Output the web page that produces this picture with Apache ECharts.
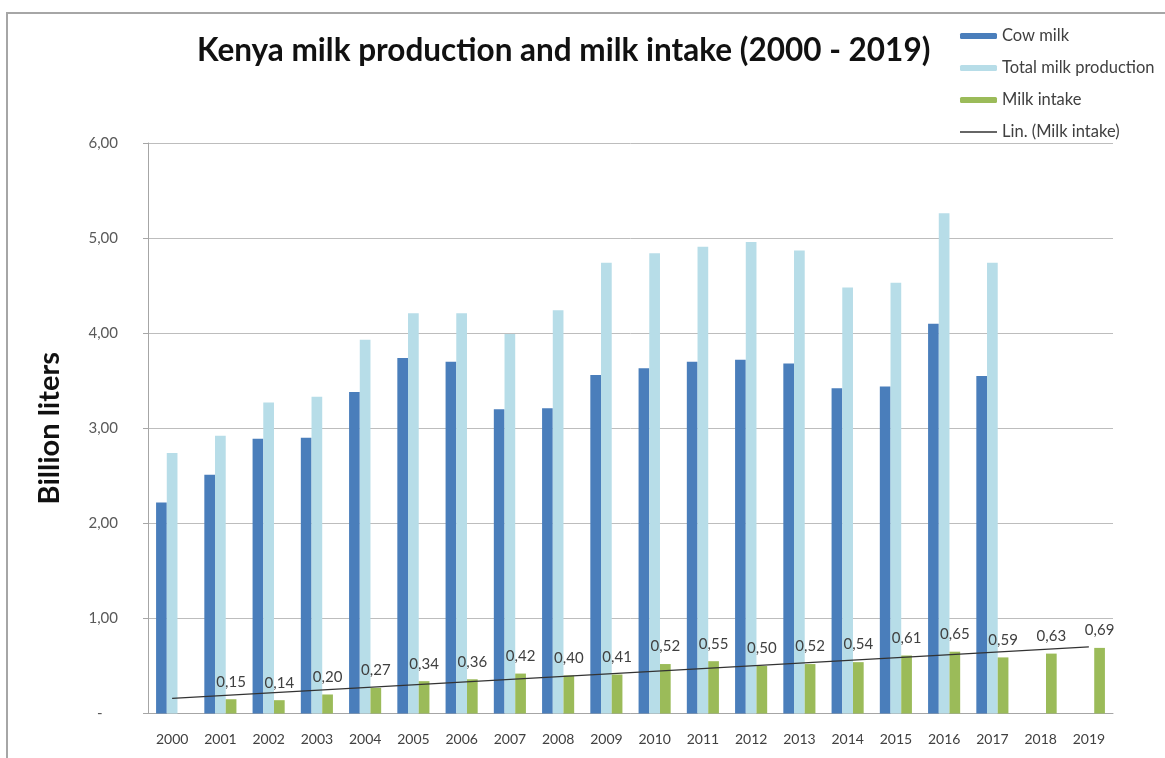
<!DOCTYPE html>
<html><head><meta charset="utf-8">
<script src="https://cdn.jsdelivr.net/npm/echarts@6.0.0/dist/echarts.min.js"></script>
<style>html,body{margin:0;padding:0;background:#fff}#c{width:1165px;height:758px}</style>
</head><body><div id="c"></div>
<script>
const years = ['2000','2001','2002','2003','2004','2005','2006','2007','2008','2009','2010','2011','2012','2013','2014','2015','2016','2017','2018','2019'];
const cowMilk = [2.22,2.51,2.89,2.90,3.38,3.74,3.70,3.20,3.21,3.56,3.63,3.70,3.72,3.68,3.42,3.44,4.10,3.55,null,null];
const totalMilk = [2.74,2.92,3.27,3.33,3.93,4.21,4.21,3.99,4.24,4.74,4.84,4.91,4.96,4.87,4.48,4.53,5.26,4.74,null,null];
const milkIntake = [null,0.15,0.14,0.20,0.27,0.34,0.36,0.42,0.40,0.41,0.52,0.55,0.50,0.52,0.54,0.61,0.65,0.59,0.63,0.69];
const trendEnds = [['2000',0.16],['2019',0.70]];
const seriesNames = ['Cow milk','Total milk production','Milk intake','Lin. (Milk intake)'];
const titleText = 'Kenya milk production and milk intake (2000 - 2019)';
const yAxisName = 'Billion liters';

const FONT = 'Lato';
const fmt = v => v.toFixed(2).replace('.', ',');
const chart = echarts.init(document.getElementById('c'), null, {renderer:'canvas'});
const barW = 10.7;
chart.setOption({
  animation:false,
  backgroundColor:'#ffffff',
  textStyle:{fontFamily:FONT},
  graphic:[{type:'rect',shape:{x:7,y:13,width:1220,height:820},style:{fill:'none',stroke:'#a6a6a6',lineWidth:2},silent:true}],
  title:{text:titleText,left:192,top:30,textStyle:{fontFamily:FONT,fontWeight:'bold',fontSize:31.5,color:'#111'}},
  legend:{
    orient:'vertical',left:955,top:22,itemWidth:37,itemHeight:6,itemGap:14,
    textStyle:{fontFamily:FONT,fontSize:16.5,color:'#404040',lineHeight:18},
    data:[seriesNames[0],seriesNames[1],seriesNames[2],
      {name:seriesNames[3],icon:'path://M0 0H30V1.3H0Z',itemStyle:{color:'#333333'}}]
  },
  grid:{left:148,right:52,top:143,bottom:44.5,containLabel:false},
  xAxis:{type:'category',data:years,
    axisLine:{lineStyle:{color:'#a6a6a6',width:1}},
    axisTick:{show:false},
    axisLabel:{fontFamily:FONT,fontSize:14,color:'#404040',margin:19}},
  yAxis:{type:'value',min:0,max:6,interval:1,
    name:yAxisName,nameLocation:'middle',nameRotate:90,nameGap:84,
    nameTextStyle:{fontFamily:FONT,fontWeight:'bold',fontSize:29,color:'#111'},
    axisLine:{show:true,lineStyle:{color:'#a6a6a6'}},
    axisTick:{show:true,inside:false,length:5,lineStyle:{color:'#a6a6a6'}},
    splitLine:{lineStyle:{color:'#bdbdbd'}},
    axisLabel:{fontFamily:FONT,fontSize:15,color:'#595959',margin:30,
      formatter:v=> v===0 ? '-    ' : fmt(v)}},
  series:[
    {name:seriesNames[0],type:'bar',data:cowMilk,barWidth:barW,barGap:'0%',itemStyle:{color:'#4a7ebb'}},
    {name:seriesNames[1],type:'bar',data:totalMilk,barWidth:barW,barGap:'0%',itemStyle:{color:'#b7dde8'}},
    {name:seriesNames[2],type:'bar',data:milkIntake,barWidth:barW,barGap:'0%',itemStyle:{color:'#9bbb59'},
      label:{show:true,position:'top',distance:10,fontFamily:FONT,fontSize:15,color:'#404040',
        formatter:p=> p.value==null ? '' : fmt(p.value)}},
    {name:seriesNames[3],type:'line',data:trendEnds,symbol:'none',z:5,
      lineStyle:{color:'#333333',width:1.2},itemStyle:{color:'#333333'}}
  ]
});
</script></body></html>
